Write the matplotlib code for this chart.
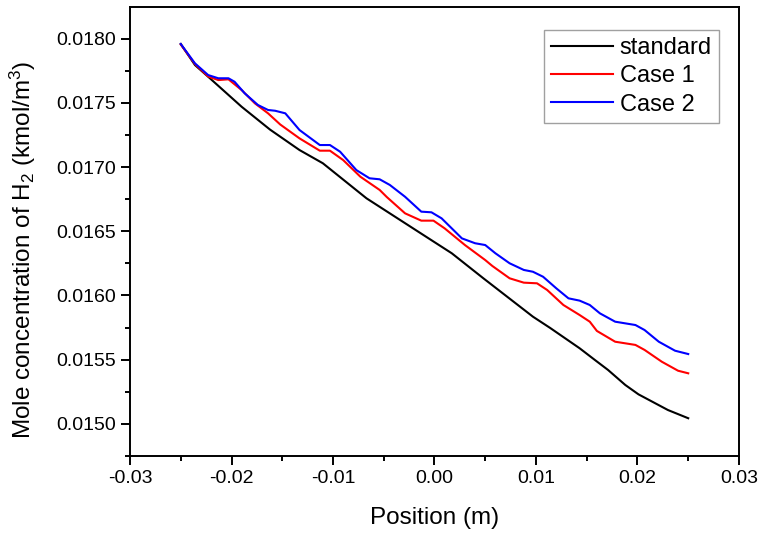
import numpy as np
import matplotlib
matplotlib.use("Agg")
import matplotlib.pyplot as plt
from matplotlib.ticker import MultipleLocator, FormatStrFormatter

plt.rcParams['font.family'] = ['Liberation Sans', 'DejaVu Sans']
plt.rcParams['mathtext.fontset'] = 'custom'
plt.rcParams['mathtext.rm'] = 'Liberation Sans'
plt.rcParams['mathtext.it'] = 'Liberation Sans:italic'

# standard
x_std = [-0.0250, -0.0236, -0.0223, -0.0190, -0.0162, -0.0133, -0.0110, -0.0067,
         -0.0016, 0.0017, 0.0048, 0.0097, 0.0114, 0.0143, 0.0158, 0.0171, 0.0188,
         0.0201, 0.0230, 0.0250]
y_std = [0.017959, 0.017795, 0.017704, 0.017470, 0.017292, 0.017133, 0.017030, 0.016757,
         0.016497, 0.016329, 0.016135, 0.015835, 0.015747, 0.015589, 0.015498, 0.015420,
         0.015303, 0.015230, 0.015108, 0.015044]

# Case 1
x_c1 = [-0.0250, -0.0236, -0.0223, -0.0213, -0.0203, -0.0190, -0.0177, -0.0164, -0.0152,
        -0.0133, -0.0113, -0.0103, -0.0090, -0.0073, -0.0054, -0.0047, -0.0029, -0.0013,
        -0.0001, 0.0010, 0.0030, 0.0050, 0.0057, 0.0074, 0.0088, 0.0101, 0.0111, 0.0127,
        0.0143, 0.0153, 0.0160, 0.0178, 0.0198, 0.0207, 0.0224, 0.0240, 0.0250]
y_c1 = [0.017955, 0.017803, 0.017706, 0.017678, 0.017684, 0.017600, 0.017497, 0.017419,
        0.017332, 0.017224, 0.017128, 0.017128, 0.017055, 0.016925, 0.016822, 0.016767,
        0.016640, 0.016583, 0.016583, 0.016523, 0.016393, 0.016276, 0.016230, 0.016134,
        0.016100, 0.016095, 0.016043, 0.015926, 0.015848, 0.015796, 0.015724, 0.015640,
        0.015615, 0.015576, 0.015484, 0.015414, 0.015394]

# Case 2
x_c2 = [-0.0250, -0.0236, -0.0223, -0.0213, -0.0203, -0.0197, -0.0187, -0.0174, -0.0164,
        -0.0157, -0.0147, -0.0133, -0.0113, -0.0103, -0.0093, -0.0077, -0.0064, -0.0054,
        -0.0044, -0.0029, -0.0013, -0.0003, 0.0007, 0.0027, 0.0040, 0.0050, 0.0060, 0.0074,
        0.0088, 0.0097, 0.0107, 0.0120, 0.0132, 0.0143, 0.0153, 0.0163, 0.0178, 0.0198,
        0.0207, 0.0221, 0.0237, 0.0250]
y_c2 = [0.017959, 0.017808, 0.017717, 0.017692, 0.017692, 0.017665, 0.017575, 0.017484,
        0.017445, 0.017439, 0.017419, 0.017289, 0.017172, 0.017172, 0.017120, 0.016977,
        0.016913, 0.016905, 0.016861, 0.016769, 0.016653, 0.016648, 0.016601, 0.016445,
        0.016407, 0.016393, 0.016329, 0.016251, 0.016199, 0.016185, 0.016146, 0.016056,
        0.015978, 0.015960, 0.015926, 0.015861, 0.015796, 0.015770, 0.015731, 0.015640,
        0.015570, 0.015544]

fig = plt.figure(figsize=(7.63, 5.36), dpi=100)
ax = fig.add_axes([0.1704, 0.1493, 0.7981, 0.8376])

ax.plot(x_std, y_std, color='black', lw=1.5, label='standard', solid_joinstyle='round')
ax.plot(x_c1, y_c1, color='red', lw=1.5, label='Case 1', solid_joinstyle='round')
ax.plot(x_c2, y_c2, color='blue', lw=1.5, label='Case 2', solid_joinstyle='round')

ax.set_xlim(-0.03, 0.03)
ax.set_ylim(0.01475, 0.018247)
ax.xaxis.set_major_locator(MultipleLocator(0.01))
ax.xaxis.set_minor_locator(MultipleLocator(0.005))
ax.yaxis.set_major_locator(MultipleLocator(0.0005))
ax.yaxis.set_minor_locator(MultipleLocator(0.00025))
ax.xaxis.set_major_formatter(FormatStrFormatter('%.2f'))
ax.yaxis.set_major_formatter(FormatStrFormatter('%.4f'))

for s in ax.spines.values():
    s.set_linewidth(1.4)
ax.tick_params(which='major', direction='out', length=6.5, width=1.4, labelsize=14,
               top=False, right=False)
ax.tick_params(which='minor', direction='out', length=3.6, width=1.4, top=False, right=False)

ax.set_xlabel('Position (m)', fontsize=17.5)
ax.set_ylabel('Mole concentration of H$_2$ (kmol/m$^3$)', fontsize=17.5)
ax.xaxis.set_label_coords(0.5, -0.114)
ax.yaxis.set_label_coords(-0.151, 0.46)

leg = ax.legend(loc='upper right', bbox_to_anchor=(0.967, 0.949), borderaxespad=0,
                fontsize=17, frameon=True, fancybox=False, handlelength=2.6,
                handletextpad=0.3, labelspacing=0.27, borderpad=0.3)
leg.get_frame().set_edgecolor('#888888')
leg.get_frame().set_linewidth(1.0)

fig.savefig('out.png', dpi=100)
